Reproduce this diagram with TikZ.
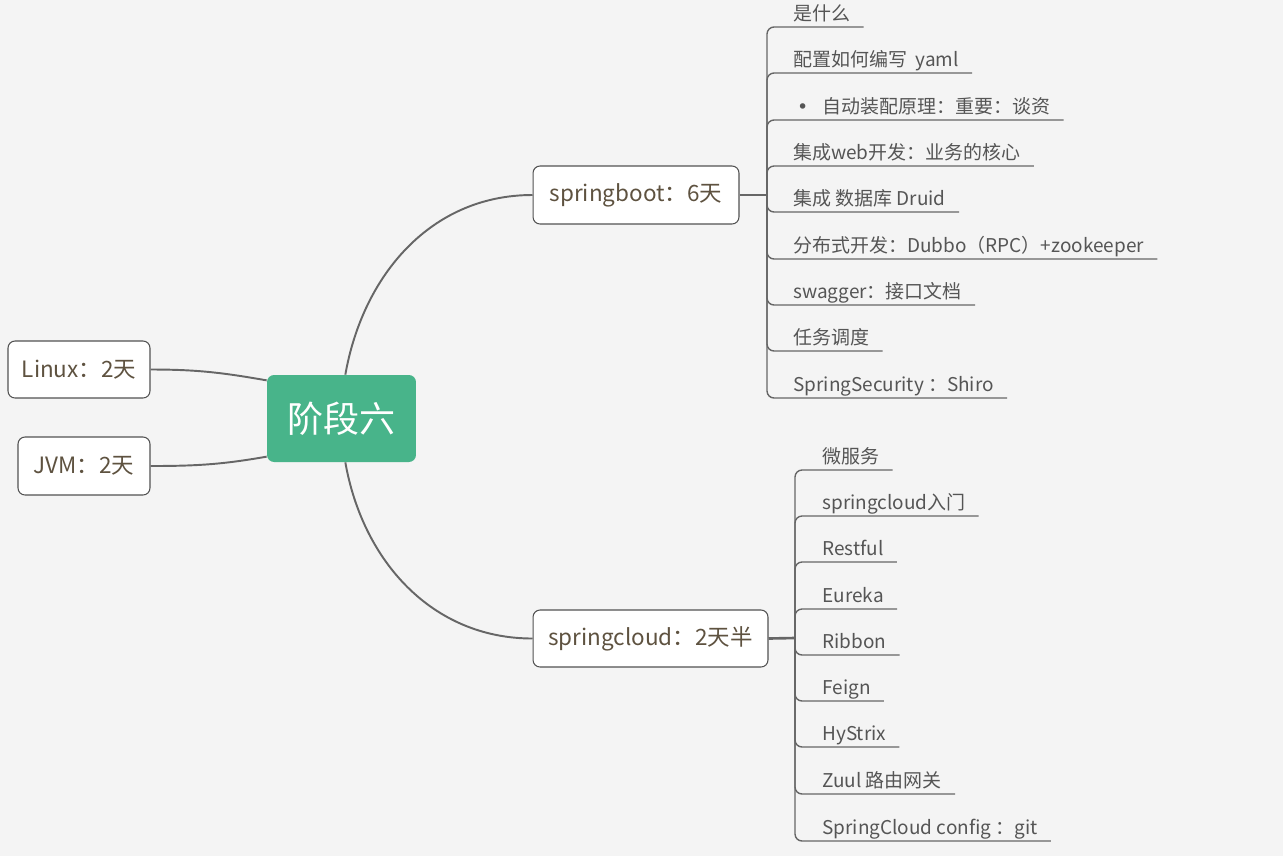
\documentclass[tikz,border=0pt]{standalone}
\usepackage{fontspec}
\setmainfont{Noto Sans CJK SC}
\newfontfamily\dotfont{DejaVu Sans}
\usetikzlibrary{positioning}
\definecolor{bgcol}{HTML}{F4F4F4}
\definecolor{topicgreen}{HTML}{48B48A}
\definecolor{linecol}{HTML}{666666}
\definecolor{boxtext}{HTML}{5E5240}
\definecolor{leaftext}{HTML}{555555}

\begin{document}
\begin{tikzpicture}[x=0.02cm,y=-0.02cm,
  topic/.style={draw=linecol!80!black, fill=white, rounded corners=4pt, line width=0.6pt, text=boxtext, font=\fontsize{12.8}{14}\selectfont},
  leaf/.style={anchor=south west, inner xsep=0.26cm, inner ysep=1.5pt, text height=0.85em, text depth=0.2em, text=leaftext, font=\fontsize{10.8}{12}\selectfont},
  link/.style={linecol, line width=1.1pt},
  branch/.style={linecol, line width=0.8pt, rounded corners=4pt}]

\fill[bgcol] (0,0) rectangle (1283,856);

% centre and main topics
\node[fill=topicgreen, rounded corners=4pt, minimum width=2.98cm, minimum height=1.74cm, text=white, font=\fontsize{20.5}{24}\selectfont] (stage) at (341.5,418.5) {阶段六};

\node[topic, minimum width=2.84cm, minimum height=1.14cm] (linux) at (79,369.5) {Linux：2天};
\node[topic, minimum width=2.64cm, minimum height=1.16cm] (jvm) at (84,466) {JVM：2天};
\node[topic, minimum width=4.12cm, minimum height=1.16cm] (sb) at (636,195) {springboot：6天};
\node[topic, minimum width=4.70cm, minimum height=1.14cm] (sc) at (650.5,638.5) {springcloud：2天半};

\draw[link] (linux.east) to[out=0,in=170] (stage.153);
\draw[link] (jvm.east) to[out=0,in=190] (stage.207);
\draw[link] (stage.85) to[out=80,in=180] (sb.west);
\draw[link] (stage.275) to[out=-80,in=180] (sc.west);

% springboot
\coordinate (sbhub) at (767,195);
\draw[link] (sb.east) -- (sbhub);

\node[leaf] (what) at (780,27) {是什么};
\node[leaf] (yaml) at (780,73) {配置如何编写\ \ yaml};
\node[leaf] (auto) at (780,120) {\hspace{0.2em}{\dotfont •}\hspace{0.75em}自动装配原理：重要：谈资};
\node[leaf] (web) at (780,166) {集成web开发：业务的核心};
\node[leaf] (druid) at (780,212) {集成 数据库 Druid};
\node[leaf] (dubbo) at (780,259) {分布式开发：Dubbo（RPC）+zookeeper};
\node[leaf] (swagger) at (780,305) {swagger：接口文档};
\node[leaf] (task) at (780,351) {任务调度};
\node[leaf] (security) at (780,398) {SpringSecurity ：Shiro};

\draw[branch] (sbhub) |- (what.south east);
\draw[branch] (sbhub) |- (yaml.south east);
\draw[branch] (sbhub) |- (auto.south east);
\draw[branch] (sbhub) |- (web.south east);
\draw[branch] (sbhub) |- (druid.south east);
\draw[branch] (sbhub) |- (dubbo.south east);
\draw[branch] (sbhub) |- (swagger.south east);
\draw[branch] (sbhub) |- (task.south east);
\draw[branch] (sbhub) |- (security.south east);

% springcloud
\coordinate (schub) at (795,638);
\draw[link, line width=1.5pt] (sc.east) -- (schub);

\node[leaf] (micro) at (809,470) {微服务};
\node[leaf] (intro) at (809,516) {springcloud入门};
\node[leaf] (rest) at (809,562) {Restful};
\node[leaf] (eureka) at (809,609) {Eureka};
\node[leaf] (ribbon) at (809,655) {Ribbon};
\node[leaf] (feign) at (809,701) {Feign};
\node[leaf] (hystrix) at (809,747) {HyStrix};
\node[leaf] (zuul) at (809,794) {Zuul 路由网关};
\node[leaf] (config) at (809,841) {SpringCloud config ：git};

\draw[branch] (schub) |- (micro.south east);
\draw[branch] (schub) |- (intro.south east);
\draw[branch] (schub) |- (rest.south east);
\draw[branch] (schub) |- (eureka.south east);
\draw[branch] (schub) |- (ribbon.south east);
\draw[branch] (schub) |- (feign.south east);
\draw[branch] (schub) |- (hystrix.south east);
\draw[branch] (schub) |- (zuul.south east);
\draw[branch] (schub) |- (config.south east);

\end{tikzpicture}
\end{document}
